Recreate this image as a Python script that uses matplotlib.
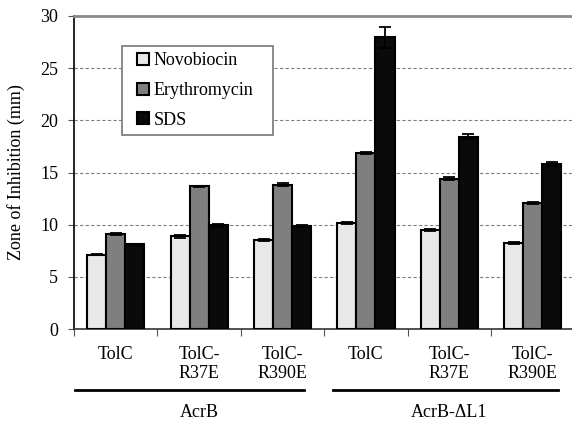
import matplotlib
matplotlib.use("Agg")
import matplotlib.pyplot as plt
import numpy as np
from matplotlib.patches import Rectangle
from matplotlib.legend_handler import HandlerPatch
from matplotlib.transforms import blended_transform_factory

plt.rcParams['font.family'] = ['Liberation Serif', 'DejaVu Serif']

strains = ["TolC", "TolC-\nR37E", "TolC-\nR390E", "TolC", "TolC-\nR37E", "TolC-\nR390E"]
groups = ["AcrB", "AcrB-ΔL1"]
drugs = ["Novobiocin", "Erythromycin", "SDS"]
novobiocin = [7.1, 8.9, 8.5, 10.2, 9.5, 8.25]
erythromycin = [9.1, 13.7, 13.85, 16.9, 14.4, 12.05]
sds = [8.1, 9.95, 9.9, 27.95, 18.45, 15.8]
novobiocin_err = [0.05, 0.15, 0.1, 0.1, 0.1, 0.1]
erythromycin_err = [0.1, 0.05, 0.15, 0.1, 0.15, 0.1]
sds_err = [0.05, 0.15, 0.1, 1.0, 0.2, 0.2]

colors = ["#e8e8e8", "#7f7f7f", "#0a0a0a"]
fs = 13


def square_right(legend, orig_handle, xdescent, ydescent, width, height, fontsize):
    # small square pushed to the right end of the handle slot
    s = 8.6
    return Rectangle((width - s - xdescent, -ydescent + (height - s) / 2), s, s)


fig = plt.figure(figsize=(5.72, 4.21), dpi=100)
ax = fig.add_axes([0.1294, 0.2185, 0.875, 0.7435])

x = np.arange(len(strains))
w = 0.228
series = [(novobiocin, novobiocin_err), (erythromycin, erythromycin_err), (sds, sds_err)]
bars = []
for i, (vals, errs) in enumerate(series):
    b = ax.bar(x + (i - 1) * w, vals, w, color=colors[i], edgecolor="black",
               linewidth=1.5, label=drugs[i], zorder=3,
               yerr=errs, error_kw=dict(ecolor="black", elinewidth=1.3, capsize=4.5, capthick=1.3))
    bars.append(b)

ax.set_xlim(-0.5, len(strains) - 0.5)
ax.set_ylim(0, 30)
ax.set_yticks(np.arange(0, 31, 5))
ax.yaxis.grid(True, linestyle=(0, (3, 2)), color="#808080", linewidth=0.8, zorder=0)
ax.set_ylabel("Zone of Inhibition (mm)", fontsize=fs, labelpad=11)
ax.tick_params(axis="y", labelsize=fs, length=4.5, pad=7, direction="out", color="#555555")

# category boundaries as tick marks, labels in the middle
ax.set_xticks(np.arange(-0.5, len(strains), 1))
ax.set_xticklabels([])
ax.set_xticks(x, minor=True)
ax.set_xticklabels(strains, minor=True, fontsize=fs, linespacing=1.15, va="top")
ax.tick_params(axis="x", which="major", length=5, color="#555555")
ax.tick_params(axis="x", which="minor", length=0, pad=12)

ax.spines["right"].set_visible(False)
ax.spines["top"].set_color("#888888")
ax.spines["top"].set_linewidth(2)
ax.spines["left"].set_linewidth(1.2)
ax.spines["bottom"].set_linewidth(1.2)
ax.spines["bottom"].set_color("#333333")

# group lines and labels below the strain names
trans = blended_transform_factory(ax.transData, ax.transAxes)
spans = [(-0.49, 2.26), (2.6, 5.3)]
for (a, b), g, c in zip(spans, groups, [1, 4]):
    ax.plot([a, b], [-0.195, -0.195], color="black", linewidth=2,
            transform=trans, clip_on=False)
    ax.text(c, -0.268, g, transform=trans, ha="center", va="center", fontsize=fs)

leg = ax.legend([b.patches[0] for b in bars], drugs,
                loc="upper left", bbox_to_anchor=(0.0959, 0.5, 0.3017, 0.404),
                mode="expand", fontsize=fs,
                frameon=True, fancybox=False, edgecolor="#777777", framealpha=1,
                handler_map={Rectangle: HandlerPatch(patch_func=square_right)},
                handlelength=1.16, handleheight=0.7, handletextpad=0.25,
                labelspacing=0.7, borderpad=0.35, borderaxespad=0)
leg.get_frame().set_linewidth(1.2)
leg.set_zorder(5)

fig.savefig("out.png", dpi=100)
